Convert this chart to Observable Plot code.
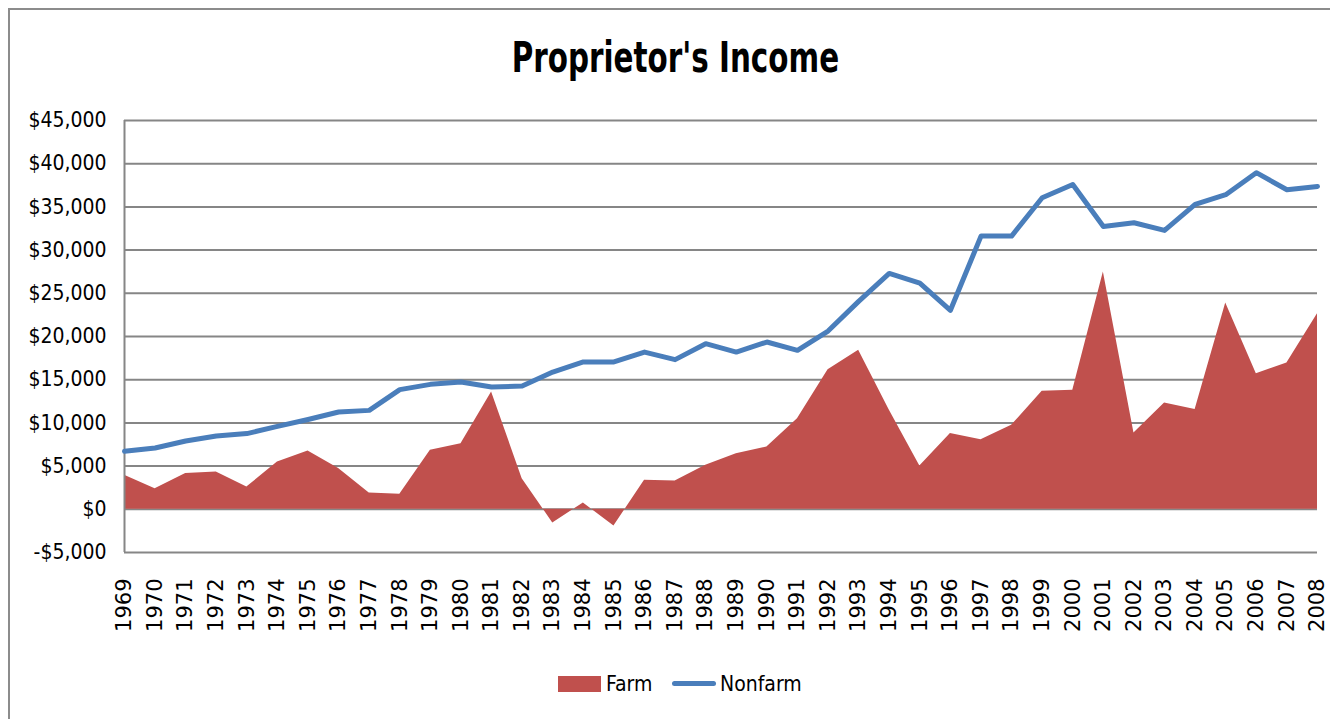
<!DOCTYPE html>
<html>
<head>
<meta charset="utf-8">
<script src="https://cdn.jsdelivr.net/npm/d3@7"></script>
<script src="https://cdn.jsdelivr.net/npm/@observablehq/plot@0.6"></script>
<style>
  html, body { margin: 0; padding: 0; background: #fff; overflow: hidden; }
  #wrap { position: relative; width: 1330px; height: 719px; overflow: hidden; }
  #frame { position: absolute; left: 8px; top: 8px; width: 1400px; height: 800px; border: 2px solid #8c8c8c; box-sizing: border-box; }
  #title { position: absolute; left: 0; width: 1350px; top: 32px; text-align: center; }
  #title span { display: inline-block; transform: scaleX(0.76);
           font-family: "Liberation Sans Narrow", "DejaVu Sans Condensed", sans-serif; font-weight: bold; font-size: 43px; color: #000; }
  #chart { position: absolute; left: 0; top: 0; }
  .leg { position: absolute; font-family: "Liberation Sans Narrow", "DejaVu Sans Condensed", sans-serif; font-size: 21px; color: #000; }
</style>
</head>
<body>
<div id="wrap">
  <div id="frame"></div>
  <div id="chart"></div>
  <div id="title"><span>Proprietor's Income</span></div>
  <div class="leg" style="left:558px; top:676px; width:43px; height:16px; background:#C0504D;"></div>
  <div class="leg" style="left:606px; top:672px;">Farm</div>
  <div class="leg" style="left:672px; top:681px; width:44px; height:5px; border-radius:3px; background:#4A7EBB;"></div>
  <div class="leg" style="left:720px; top:672px;">Nonfarm</div>
</div>
<script>
const years = d3.range(1969, 2009);
const farm = [3930, 2390, 4130, 4320, 2580, 5470, 6750, 4710, 1890, 1740,
              6830, 7600, 13570, 3550, -1580, 730, -1930, 3360, 3280, 5090,
              6440, 7210, 10490, 16160, 18400, 11500, 5010, 8760, 8060, 9720,
              13650, 13770, 27460, 8830, 12300, 11540, 23870, 15700, 16930, 22640];
const nonfarm = [6710, 7100, 7900, 8480, 8760, 9600, 10400, 11260, 11450, 13850,
                 14460, 14730, 14150, 14270, 15890, 17050, 17050, 18200, 17320, 19170,
                 18200, 19360, 18400, 20630, 24070, 27300, 26190, 23030, 31620, 31620,
                 36060, 37600, 32740, 33170, 32280, 35290, 36410, 38960, 36990, 37370];
const yTicks = d3.range(-5000, 45001, 5000);

const data = years.map((y, i) => ({year: y, farm: farm[i], nonfarm: nonfarm[i]}));
const fmt = d3.format(",");
const money = d => (d < 0 ? "-$" : "$") + fmt(Math.abs(d));

const plot = Plot.plot({
  width: 1330,
  height: 719,
  marginLeft: 124,
  marginRight: 13,
  marginTop: 120,
  marginBottom: 167,
  style: {background: "transparent", color: "#000"},
  x: {domain: [1969, 2008]},
  y: {domain: [-5000, 45000]},
  marks: [
    Plot.ruleY(yTicks, {stroke: "#868686", strokeWidth: 2}),
    Plot.areaY(data, {x: "year", y: "farm", fill: "#C0504D"}),
    Plot.ruleX([1969], {y1: -5000, y2: 45000, stroke: "#868686", strokeWidth: 2}),
    Plot.line(data, {x: "year", y: "nonfarm", stroke: "#4A7EBB", strokeWidth: 5, strokeLinejoin: "round"}),
    Plot.axisY({ticks: yTicks, tickFormat: money, tickSize: 0, tickPadding: 18, label: null,
                fontSize: 21, fontFamily: "'Liberation Sans Narrow', 'DejaVu Sans Condensed', sans-serif"}),
    Plot.axisX({ticks: years, tickFormat: d => String(d), tickRotate: -90, tickSize: 0, tickPadding: 26, label: null,
                fontSize: 21, fontFamily: "'DejaVu Sans', sans-serif"})
  ]
});
document.getElementById("chart").appendChild(plot);
</script>
</body>
</html>
